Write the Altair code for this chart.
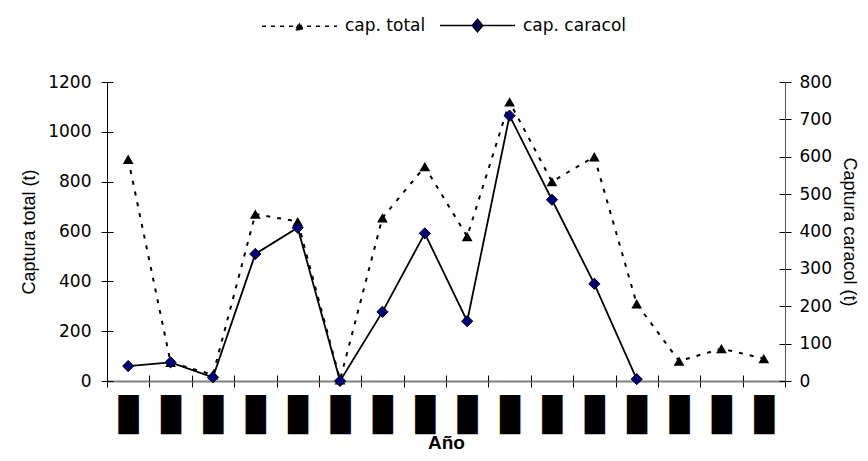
import altair as alt
import pandas as pd

# ---- data ----
anios = [str(i) for i in range(1, 17)]
cap_total = [890, 75, 25, 670, 640, 5, 655, 860, 580, 1120, 800, 900, 310, 80, 130, 90]
cap_caracol = [40, 50, 10, 340, 410, 0, 185, 395, 160, 710, 485, 260, 5, None, None, None]
series = ["cap. total", "cap. caracol"]
ticks_total = [0, 200, 400, 600, 800, 1000, 1200]
ticks_caracol = [0, 100, 200, 300, 400, 500, 600, 700, 800]

df = pd.DataFrame({"anio": anios, "total": cap_total, "caracol": cap_caracol})
df_leg = pd.DataFrame({"serie": series})

FONT = "DejaVu Sans"
TFONT = "Liberation Sans"

sym_total = "M-1,0L1,0M-0.1,0.09L0.1,0.09L0,-0.1Z"
sym_car = "M-1,0L1,0M-0.14,0L0,-0.17L0.14,0L0,0.17Z"

legend = alt.Legend(
    title=None, orient="none", legendX=154, legendY=-95, direction="horizontal",
    symbolSize=5625, labelFont=FONT, labelFontSize=17, labelColor="black",
    labelOffset=7, columnPadding=11, padding=0, symbolOpacity=1,
    symbolStrokeColor="black", symbolStrokeWidth=1.5,
)

x_scale = alt.Scale(type="band", paddingInner=0, paddingOuter=0)

x = alt.X(
    "anio:N", sort=anios, bandPosition=0.5, scale=x_scale,
    axis=alt.Axis(
        orient="bottom",
        title="Año", labelExpr="datum.extra ? '' : '█'", tickBand="extent", labelAngle=0,
        labelFont="DejaVu Sans Mono", labelFontSize=33, labelPadding=12, labelColor="black",
        labelOverlap=False,
        domainColor="#808080", domainWidth=2, tickColor="black", tickSize=6,
        titleFont=TFONT, titleFontSize=19, titleFontWeight="bold", titlePadding=1,
    ),
)
x_plain = alt.X("anio:N", sort=anios, bandPosition=0.5, scale=x_scale, axis=None)

# inner halves of the crossing tick marks
x_in = alt.X(
    "anio:N", sort=anios, scale=x_scale,
    axis=alt.Axis(
        orient="bottom", title=None, labels=False, domain=False, tickBand="extent",
        tickColor="black", tickSize=6, offset=-6, grid=False,
    ),
)

y_total_scale = alt.Scale(domain=[0, 1200], nice=False)
y_car_scale = alt.Scale(domain=[0, 800], nice=False)

y_total = alt.Y(
    "total:Q", scale=y_total_scale,
    axis=alt.Axis(
        orient="left", values=ticks_total, format="d", title="Captura total (t)", grid=False,
        labelFont=FONT, labelFontSize=17, labelPadding=10, labelColor="black",
        domainColor="black", tickColor="black", tickSize=6,
        titleFont=TFONT, titleFontSize=18, titleFontWeight="normal", titlePadding=9,
    ),
)

y_car = alt.Y(
    "caracol:Q", scale=y_car_scale,
    axis=alt.Axis(
        orient="right", values=ticks_caracol, format="d", title="Captura caracol (t)", grid=False,
        labelFont=FONT, labelFontSize=17, labelPadding=8, labelColor="black",
        domainColor="#555555", tickColor="black", tickSize=6,
        titleFont=TFONT, titleFontSize=18, titleFontWeight="normal", titlePadding=8,
    ),
)

y_total_in = alt.Y(
    "total:Q", scale=y_total_scale,
    axis=alt.Axis(orient="left", values=ticks_total, labels=False, domain=False, title=None,
                  grid=False, tickColor="black", tickSize=6, offset=-6),
)
y_car_in = alt.Y(
    "caracol:Q", scale=y_car_scale,
    axis=alt.Axis(orient="right", values=ticks_caracol, labels=False, domain=False, title=None,
                  grid=False, tickColor="black", tickSize=6, offset=-6),
)

base = alt.Chart(df)

line_total = base.mark_line(strokeWidth=2, strokeDash=[4, 7], color="black").encode(x=x, y=y_total)
pts_total = base.mark_point(
    shape="triangle-up", filled=True, size=115, fill="black", opacity=1
).encode(x=x, y=y_total)

line_car = base.mark_line(strokeWidth=1.8, color="black").encode(x=x_plain, y=y_car)
pts_car = base.mark_point(
    shape="diamond", filled=True, size=125, fill="#000080", stroke="black", strokeWidth=1, opacity=1
).encode(x=x_plain, y=y_car)

leg_layer = alt.Chart(df_leg).mark_point(filled=True, opacity=0).encode(
    shape=alt.Shape("serie:N", scale=alt.Scale(domain=series, range=[sym_total, sym_car]), legend=legend),
    fill=alt.Fill("serie:N", scale=alt.Scale(domain=series, range=["black", "#000080"]), legend=legend),
    stroke=alt.Stroke("serie:N", scale=alt.Scale(domain=series, range=["black", "black"]), legend=legend),
    strokeDash=alt.StrokeDash("serie:N", scale=alt.Scale(domain=series, range=[[4, 5], [1, 0]]), legend=legend),
)

tick_left = base.mark_point(opacity=0).encode(y=y_total_in)
tick_right = base.mark_point(opacity=0).encode(y=y_car_in)
tick_bottom = base.mark_point(opacity=0).encode(x=x_in)

layer_total = alt.layer(line_total, pts_total)
layer_car = alt.layer(line_car, pts_car)

chart = (
    alt.layer(tick_left, layer_total, tick_right, layer_car, tick_bottom, leg_layer)
    .resolve_scale(y="independent")
    .resolve_axis(x="independent")
    .properties(
        width=678, height=299,
        autosize=alt.AutoSizeParams(type="none"),
        padding={"left": 99, "top": 74, "right": 75, "bottom": 70},
        background="white",
    )
    .configure_view(stroke=None)
)

chart.save("out.html", embed_options={"renderer": "svg", "actions": False})
